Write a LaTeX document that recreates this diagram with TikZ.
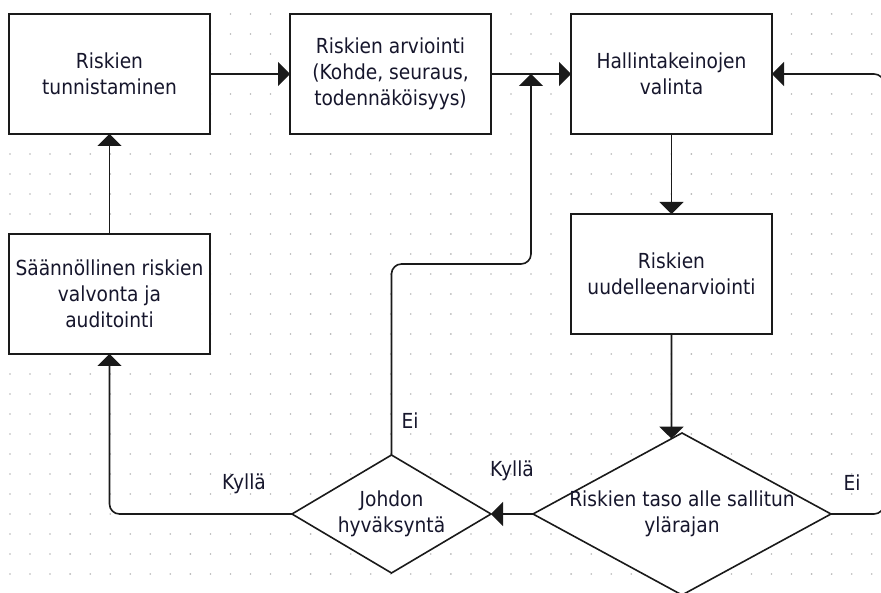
\documentclass[tikz,border=0pt]{standalone}
\usepackage{fontspec}
\setmainfont{DejaVu Sans}[FakeStretch=0.9]
\usetikzlibrary{arrows.meta,shapes.geometric,calc}
\definecolor{lnc}{HTML}{1A1A1A}
\definecolor{txc}{HTML}{16162C}
\definecolor{dotc}{HTML}{B8B8B8}
\tikzset{
 boxn/.style={draw=lnc, line width=1.6pt, fill=white, minimum width=201pt, minimum height=120pt,
   inner sep=0pt, outer sep=0pt, align=center, text=txc, font=\fontsize{20.7}{26}\selectfont},
 dia/.style={draw=lnc, line width=1.6pt, fill=white, diamond, inner sep=0pt, outer sep=0pt},
 txt/.style={align=center, text=txc, font=\fontsize{20.7}{26}\selectfont, inner sep=0pt},
 arr/.style={draw=lnc, line width=1.6pt, rounded corners=10pt, -{Triangle[length=12pt,width=24pt]}},
}
\begin{document}
\begin{tikzpicture}[x=1pt,y=-1pt]
\useasboundingbox (0,0) rectangle (881,593);
\fill[white] (0,0) rectangle (881,593);
% dotted grid
\foreach \i in {0,...,43}{
  \foreach \j in {0,...,29}{
    \fill[dotc] ({10+20.04*\i},{14+20*\j}) circle (0.9pt);
  }
}
% boxes
\node[boxn] (b1) at (109.5,74) {Riskien\\tunnistaminen};
\node[boxn] (b2) at (390.5,74) {Riskien arviointi\\(Kohde, seuraus,\\todennäköisyys)};
\node[boxn] (b3) at (671.5,74) {Hallintakeinojen\\valinta};
\node[boxn] (b4) at (109.5,294) {Säännöllinen riskien\\valvonta ja\\auditointi};
\node[boxn] (b5) at (671.5,274) {Riskien\\uudelleenarviointi};
% diamonds
\node[dia, minimum width=199pt, minimum height=118pt] (d1) at (391.5,514) {};
\node[txt] (d1t) at (d1) {Johdon\\hyväksyntä};
\node[dia, minimum width=298pt, minimum height=162pt] (d2) at (682,514) {};
\node[txt] (d2t) at (d2) {Riskien taso alle sallitun\\ylärajan};
% helper coordinates
\coordinate (rt) at (884,0);
\coordinate (m1) at (531,264);
\coordinate (d2in) at ($(d2.north)!0.0705!(d2.west)$);
% connectors
\draw[arr] (b1) -- (b2);
\draw[arr] (b2) -- (b3);
\draw[arr] (b3) -- (b5);
\draw[arr] (b5.south) -- (d2in);
\draw[arr] (d2.west) -- (d1.east);
\draw[arr] (d2.east) -- (d2.east -| rt) -- (b3.east -| rt) -- (b3.east);
\draw[arr] (d1.north) |- (m1) -- (m1 |- b2.east);
\draw[arr] (d1.west) -| (b4.south);
\draw[arr] (b4) -- (b1);
% labels
\node[txt] (lei1) at (410,421) {Ei};
\node[txt] (lky1) at (512,471) {Kyllä};
\node[txt] (lei2) at (852,483) {Ei};
\node[txt] (lky2) at (244,484) {Kyllä};
\end{tikzpicture}
\end{document}
